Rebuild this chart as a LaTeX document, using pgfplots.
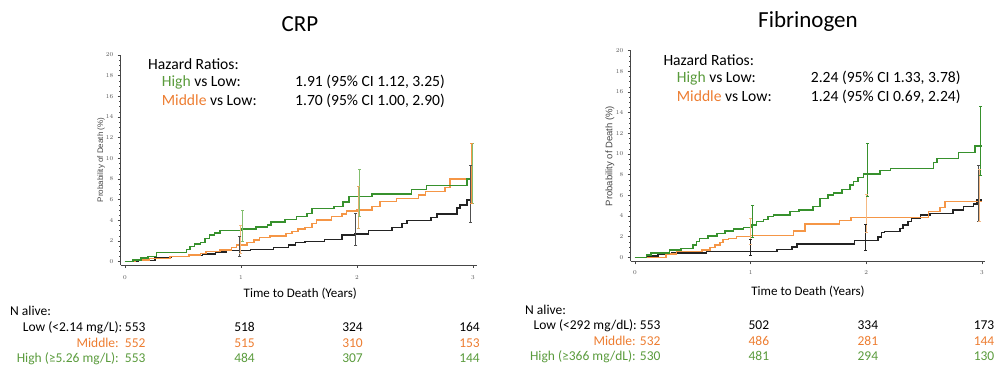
\documentclass[border=0pt]{standalone}
\usepackage{pgfplots}
\pgfplotsset{compat=1.18}
\usepackage{fontspec}
\setmainfont{Carlito}
\newfontfamily\arial{Liberation Sans}
\definecolor{lgreen}{RGB}{55,145,45}
\definecolor{lorange}{RGB}{245,150,70}
\definecolor{lblack}{RGB}{35,35,35}
\definecolor{egreen}{RGB}{130,190,110}
\definecolor{eorange}{RGB}{245,185,130}
\definecolor{eblack}{RGB}{80,80,80}
\definecolor{tgreen}{RGB}{90,155,60}
\definecolor{torange}{RGB}{237,125,49}
\definecolor{axgray}{RGB}{70,70,70}
\definecolor{labgray}{RGB}{85,85,85}

\pgfplotsset{
  kmaxis/.style={
    anchor=south west, scale only axis, clip=false,
    axis lines=left, axis line style={-, draw=axgray, line width=0.6bp},
    xtick={0,1,2,3}, ytick={0,2,...,20}, minor y tick num=3,
    tick align=outside, major tick length=3bp, minor tick length=1.6bp,
    every tick/.style={axgray, line width=0.5bp},
    ticklabel style={font=\arial\fontsize{6bp}{7bp}\selectfont, text=labgray},
    yticklabel style={anchor=east, xshift=-1bp},
    ymin=0, ymax=20,
  },
  kmstep/.style={const plot, line width=1.5bp, mark=none},
  ebar/.style={line width=1bp, mark=-, mark size=1.5bp, mark options={solid}},
}

\begin{document}
\begin{tikzpicture}
\path[use as bounding box] (0bp,0bp) rectangle (995bp,367bp);

% ---------------- CRP ----------------
\begin{axis}[kmaxis, at={(120.7bp,102bp)}, width=356bp, height=210bp,
  xmin=-0.037, xmax=3.032, ymin=-0.32,
  xticklabel style={anchor=base, yshift=-12bp},
  xlabel={Time to Death (Years)},
  xlabel style={font=\fontsize{13bp}{15bp}\selectfont, at={(axis description cs:0.5045,-0.1538)}, anchor=base},
  ylabel={Probability of Death (\%)},
  ylabel style={font=\arial\fontsize{8bp}{9bp}\selectfont, text=axgray, at={(axis description cs:-0.0553,0.5)}, anchor=center},
]
% Low
\addplot[kmstep, lblack] coordinates {(0,0)(0.11,0.1)(0.26,0.4)(0.40,0.5)(0.55,0.6)(0.67,0.75)(0.78,0.95)(0.87,1.1)(1.08,1.2)(1.28,1.35)(1.41,1.6)(1.47,1.85)(1.55,1.95)(1.72,2.15)(1.87,2.6)(1.98,2.7)(2.10,3.0)(2.30,3.3)(2.39,3.7)(2.43,4.0)(2.64,4.3)(2.69,4.6)(2.86,5.2)(2.89,5.5)(2.95,5.95)(3.0,5.95)};
% Middle
\addplot[kmstep, lorange] coordinates {(0,0)(0.09,0.16)(0.21,0.33)(0.39,0.48)(0.55,0.65)(0.65,0.81)(0.70,0.97)(0.82,1.13)(0.92,1.39)(0.96,1.62)(1.05,1.84)(1.11,2.1)(1.16,2.36)(1.25,2.5)(1.39,2.75)(1.44,2.9)(1.49,3.17)(1.55,3.29)(1.61,3.71)(1.65,4.04)(1.78,4.36)(1.87,4.62)(1.91,4.91)(2.0,5.0)(2.13,5.33)(2.20,5.81)(2.34,6.13)(2.53,6.45)(2.59,6.78)(2.76,7.2)(2.80,8.0)(3.0,8.0)};
% High
\addplot[kmstep, lgreen] coordinates {(0,0)(0.07,0.15)(0.14,0.35)(0.20,0.5)(0.27,0.9)(0.53,1.2)(0.56,1.45)(0.60,1.7)(0.65,1.85)(0.69,2.25)(0.73,2.6)(0.77,2.8)(0.82,3.0)(1.0,3.15)(1.13,3.35)(1.23,3.55)(1.26,3.85)(1.38,4.1)(1.48,4.35)(1.57,4.65)(1.61,5.15)(1.80,5.35)(1.88,5.8)(1.93,6.3)(2.13,6.55)(2.47,7.0)(2.60,7.35)(2.95,8.0)(3.0,8.0)};
% error bars
\addplot[ebar, eorange] coordinates {(1.0,0.8)(1.0,3.5)};
\addplot[ebar, eblack] coordinates {(0.99,0.5)(0.99,2.4)};
\addplot[ebar, egreen] coordinates {(1.01,1.95)(1.01,4.95)};
\addplot[ebar, egreen] coordinates {(2.02,4.4)(2.02,8.9)};
\addplot[ebar, eorange!80!olive] coordinates {(2.01,3.2)(2.01,7.25)};
\addplot[ebar, eblack] coordinates {(1.99,1.55)(1.99,4.65)};
\addplot[ebar, eblack] coordinates {(2.975,3.8)(2.975,9.35)};
\addplot[ebar, egreen] coordinates {(2.995,5.6)(2.995,11.4)};
\addplot[ebar, lorange] coordinates {(2.985,5.6)(2.985,11.45)};
\end{axis}

% ---------------- Fibrinogen ----------------
\begin{axis}[kmaxis, at={(630.7bp,105.5bp)}, width=354.6bp, height=210.8bp,
  xmin=-0.037, xmax=3.03, ymin=-0.41,
  xticklabel style={anchor=base, yshift=-10bp},
  xlabel={Time to Death (Years)},
  xlabel style={font=\fontsize{13bp}{15bp}\selectfont, at={(axis description cs:0.5,-0.1622)}, anchor=base},
  ylabel={Probability of Death (\%)},
  ylabel style={font=\arial\fontsize{9.5bp}{11bp}\selectfont, text=axgray, at={(axis description cs:-0.0584,0.5)}, anchor=center},
]
% Low
\addplot[kmstep, lblack] coordinates {(0,0)(0.10,0.12)(0.20,0.32)(0.32,0.4)(0.62,0.55)(1.23,0.77)(1.36,1.0)(1.40,1.29)(1.90,1.61)(2.10,1.94)(2.13,2.38)(2.16,2.48)(2.29,2.8)(2.32,3.13)(2.36,3.45)(2.39,3.77)(2.47,4.1)(2.55,4.25)(2.75,4.58)(2.84,4.9)(2.93,5.16)(2.96,5.55)(3.0,5.55)};
% Middle
\addplot[kmstep, lorange] coordinates {(0,0)(0.27,0.32)(0.36,0.54)(0.58,0.71)(0.65,0.93)(0.69,1.19)(0.735,1.45)(0.76,1.74)(0.81,1.84)(0.88,2.0)(1.0,2.1)(1.37,2.55)(1.47,3.22)(1.77,3.55)(1.87,3.87)(2.54,4.42)(2.64,4.84)(2.68,5.4)(3.0,5.4)};
% High
\addplot[kmstep, lgreen] coordinates {(0,0)(0.10,0.22)(0.14,0.39)(0.30,0.71)(0.40,0.87)(0.50,1.19)(0.53,1.51)(0.56,1.84)(0.63,2.06)(0.71,2.32)(0.78,2.55)(0.85,2.74)(0.94,2.9)(1.01,3.13)(1.05,3.45)(1.11,3.68)(1.15,3.93)(1.20,4.1)(1.34,4.42)(1.42,4.58)(1.54,4.9)(1.60,5.71)(1.67,6.03)(1.715,6.2)(1.79,6.58)(1.86,7.0)(1.89,7.32)(1.93,7.74)(1.975,8.06)(2.12,8.38)(2.21,8.6)(2.58,9.16)(2.61,9.58)(2.80,10.13)(2.94,10.77)(3.0,10.77)};
% error bars
\addplot[ebar, eorange] coordinates {(1.0,1.19)(1.0,3.77)};
\addplot[ebar, lblack] coordinates {(0.995,0.2)(0.995,1.74)};
\addplot[ebar, lgreen] coordinates {(1.02,1.94)(1.02,5.0)};
\addplot[ebar, eorange] coordinates {(2.0,2.4)(2.0,6.1)};
\addplot[ebar, lblack] coordinates {(1.99,0.7)(1.99,3.2)};
\addplot[ebar, lgreen] coordinates {(2.01,5.9)(2.01,11.0)};
\addplot[ebar, eblack] coordinates {(2.975,3.45)(2.975,8.84)};
\addplot[ebar, eorange] coordinates {(2.982,3.45)(2.982,8.45)};
\addplot[ebar, lgreen] coordinates {(2.99,7.87)(2.99,14.6)};
\end{axis}

\begin{scope}[x=1bp,y=1bp]
\node[font=\fontsize{23bp}{26bp}\selectfont, anchor=base] at (300,335.3) {CRP};
\node[font=\fontsize{23bp}{26bp}\selectfont, anchor=base] at (808,339.7) {Fibrinogen};
\begin{scope}[every node/.style={font=\fontsize{15.6bp}{18bp}\selectfont, anchor=base west, inner sep=0pt}]
\node at (148,297.7) {Hazard Ratios:};
\node at (161.7,280.3) {\textcolor{tgreen}{High} vs Low:};
\node at (295,280.3) {1.91 (95\% CI 1.12, 3.25)};
\node at (161.7,261.3) {\textcolor{torange}{Middle} vs Low:};
\node at (295,261.3) {1.70 (95\% CI 1.00, 2.90)};
\node at (663.3,302) {Hazard Ratios:};
\node at (676.7,284.3) {\textcolor{tgreen}{High} vs Low:};
\node at (810.7,284.3) {2.24 (95\% CI 1.33, 3.78)};
\node at (676.7,266) {\textcolor{torange}{Middle} vs Low:};
\node at (810.7,266) {1.24 (95\% CI 0.69, 2.24)};
\end{scope}
\begin{scope}[every node/.style={font=\fontsize{13.5bp}{15bp}\selectfont, inner sep=0pt}]
\node[anchor=base west] at (10,52) {N alive:};
\node[anchor=base east] at (122.5,35.3) {Low (<2.14 mg/L):};
\node[anchor=base east, text=torange] at (119,19.7) {Middle:};
\node[anchor=base east, text=tgreen] at (119,4.7) {High (≥5.26 mg/L):};
\node[anchor=base east] at (145.7,35.3) {553};
\node[anchor=base east] at (255,35.3) {518};
\node[anchor=base east] at (363,35.3) {324};
\node[anchor=base east] at (480,35.3) {164};
\node[anchor=base east, text=torange] at (145.7,19.7) {552};
\node[anchor=base east, text=torange] at (255,19.7) {515};
\node[anchor=base east, text=torange] at (363,19.7) {310};
\node[anchor=base east, text=torange] at (480,19.7) {153};
\node[anchor=base east, text=tgreen] at (145.7,4.7) {553};
\node[anchor=base east, text=tgreen] at (255,4.7) {484};
\node[anchor=base east, text=tgreen] at (363,4.7) {307};
\node[anchor=base east, text=tgreen] at (480,4.7) {144};
\node[anchor=base west] at (525,52.7) {N alive:};
\node[anchor=base east] at (637,37.7) {Low (<292 mg/dL):};
\node[anchor=base east, text=torange] at (636,22) {Middle:};
\node[anchor=base east, text=tgreen] at (636,6.3) {High (≥366 mg/dL):};
\node[anchor=base east] at (660.7,37.7) {553};
\node[anchor=base east] at (769.3,37.7) {502};
\node[anchor=base east] at (878.3,37.7) {334};
\node[anchor=base east] at (994.5,37.7) {173};
\node[anchor=base east, text=torange] at (660.7,22) {532};
\node[anchor=base east, text=torange] at (769.3,22) {486};
\node[anchor=base east, text=torange] at (878.3,22) {281};
\node[anchor=base east, text=torange] at (994.5,22) {144};
\node[anchor=base east, text=tgreen] at (660.7,6.3) {530};
\node[anchor=base east, text=tgreen] at (769.3,6.3) {481};
\node[anchor=base east, text=tgreen] at (878.3,6.3) {294};
\node[anchor=base east, text=tgreen] at (994.5,6.3) {130};
\end{scope}
\end{scope}
\end{tikzpicture}
\end{document}
